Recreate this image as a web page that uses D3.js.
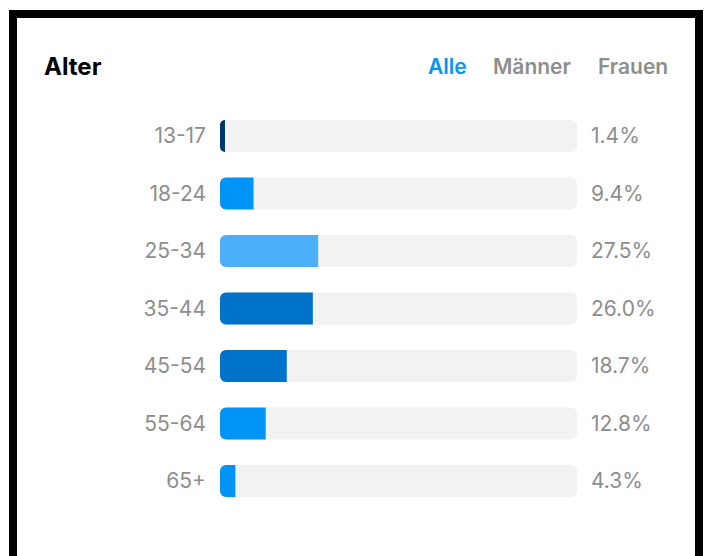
<!DOCTYPE html>
<html>
<head>
<meta charset="utf-8">
<script src="https://cdn.jsdelivr.net/npm/d3@7"></script>
<style>
  html, body { margin: 0; padding: 0; background: #ffffff; }
  svg { display: block; }
</style>
</head>
<body>
<svg id="chart" width="704" height="556"></svg>
<script>
const title = "Alter";
const tabs = ["Alle", "Männer", "Frauen"];
const categories = ["13-17", "18-24", "25-34", "35-44", "45-54", "55-64", "65+"];
const values = [1.4, 9.4, 27.5, 26.0, 18.7, 12.8, 4.3];
const barColors = ["#00376b", "#0095f6", "#4cb0f9", "#0072c9", "#0072c9", "#0095f6", "#0095f6"];

const svg = d3.select("#chart");
const font = "Inter, 'Noto Sans', 'DejaVu Sans', sans-serif";

svg.append("rect").attr("width", 704).attr("height", 556).attr("fill", "#ffffff");

// frame
svg.append("rect")
  .attr("x", 13).attr("y", 14).attr("width", 686).attr("height", 600)
  .attr("fill", "none").attr("stroke", "#000").attr("stroke-width", 8);

// title
svg.append("text")
  .attr("x", 44).attr("y", 75)
  .attr("font-family", font).attr("font-weight", 700).attr("font-size", 24)
  .attr("fill", "#000").text(title);

// tabs
const tabX = [428, 493, 598];
svg.selectAll("text.tab").data(tabs).join("text")
  .attr("class", "tab")
  .attr("x", (d, i) => tabX[i]).attr("y", 74)
  .attr("font-family", font).attr("font-weight", 600).attr("font-size", 21)
  .attr("fill", (d, i) => i === 0 ? "#0095f6" : "#8e8e8e")
  .text(d => d);

const x = d3.scaleLinear().domain([0, 100]).range([220, 577]);
const y = d3.scaleBand().domain(categories)
  .range([107.25, 509.75]).paddingInner(0.4435).paddingOuter(0.22175);

const rows = svg.selectAll("g.row").data(categories).join("g")
  .attr("class", "row")
  .attr("transform", d => `translate(0,${y(d)})`);

const bh = y.bandwidth();
const r = 6;

rows.append("rect")
  .attr("x", x(0)).attr("y", 0)
  .attr("width", x(100) - x(0)).attr("height", bh)
  .attr("rx", r).attr("ry", r)
  .attr("fill", "#f2f2f2");

function leftRounded(x0, x1, h, rad) {
  const w = x1 - x0;
  const rr = Math.min(rad, w);
  const p = d3.path();
  p.moveTo(x0 + rr, 0);
  p.lineTo(x1, 0);
  p.lineTo(x1, h);
  p.lineTo(x0 + rr, h);
  p.arcTo(x0, h, x0, h - rr, rr);
  p.lineTo(x0, rr);
  p.arcTo(x0, 0, x0 + rr, 0, rr);
  p.closePath();
  return p.toString();
}

rows.append("path")
  .attr("d", (d, i) => leftRounded(x(0), x(values[i]), bh, r))
  .attr("fill", (d, i) => barColors[i]);

rows.append("text")
  .attr("x", 206).attr("y", bh / 2)
  .attr("dy", "0.35em")
  .attr("text-anchor", "end")
  .attr("font-family", font).attr("font-size", 21)
  .attr("fill", "#8e8e8e")
  .text(d => d);

rows.append("text")
  .attr("x", 591).attr("y", bh / 2)
  .attr("dy", "0.35em")
  .attr("font-family", font).attr("font-size", 21)
  .attr("fill", "#8e8e8e")
  .text((d, i) => values[i].toFixed(1) + "%");
</script>
</body>
</html>
